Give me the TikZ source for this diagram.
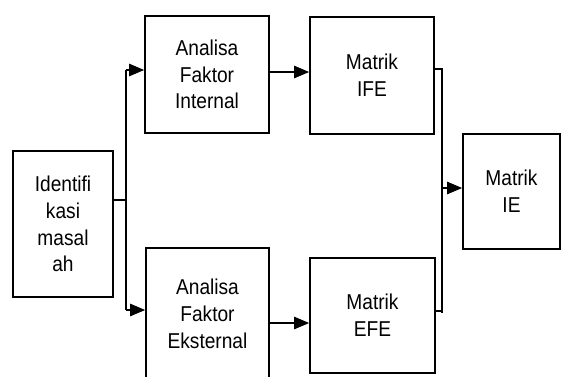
\documentclass[tikz,border=0pt]{standalone}
\usepackage{fontspec}
\setmainfont{Liberation Sans}[FakeStretch=0.89]
\usetikzlibrary{arrows.meta}
\begin{document}
\begin{tikzpicture}[x=1pt,y=1pt,
  box/.style={draw=black,line width=1.8pt,fill=white,align=center,inner sep=0pt,
    font=\fontsize{21.5}{26.8}\selectfont},
  conn/.style={line width=1.1pt},
  arr/.style={line width=1.1pt,-{Triangle[length=15pt,width=12.5pt]}},
  junc/.style={line width=1.8pt}]
\useasboundingbox[fill=white] (0,0) rectangle (561,-376);
\node[box,minimum width=100,minimum height=146] (id) at (63,-224) {Identifi\\kasi\\masal\\ah};
\node[box,minimum width=124,minimum height=117] (ai) at (207,-74.5) {Analisa\\Faktor\\Internal};
\node[box,minimum width=123,minimum height=132] (ae) at (207.5,-314) {Analisa\\Faktor\\Eksternal};
\node[box,minimum width=124,minimum height=117] (ife) at (372,-75.5) {Matrik\\IFE};
\node[box,minimum width=125,minimum height=115] (efe) at (372.5,-315.5) {Matrik\\EFE};
\node[box,minimum width=97,minimum height=115] (ie) at (511.5,-191.5) {Matrik\\IE};
\coordinate (ja) at (126,-200);
\coordinate (jat) at (126,-70);
\coordinate (jab) at (126,-310);
\coordinate (jb) at (442,-188);
\coordinate (jbt) at (442,-69);
\coordinate (jbb) at (442,-313);
\draw[junc] (id.east |- ja) -- (ja);
\draw[junc] (jat) -- (jab);
\draw[arr] (jat) -- (ai.west |- jat);
\draw[arr] (jab) -- (ae.west |- jab);
\draw[arr] (ai.east |- 0,-72) -- (ife.west |- 0,-72);
\draw[arr] (ae.east |- 0,-323) -- (efe.west |- 0,-323);
\draw[junc] (ife.east |- jbt) -- (jbt) -- (jbb);
\draw[junc] (efe.east |- 0,-311) -- (442,-311);
\draw[arr] (jb) -- (ie.west |- jb);
\end{tikzpicture}
\end{document}
